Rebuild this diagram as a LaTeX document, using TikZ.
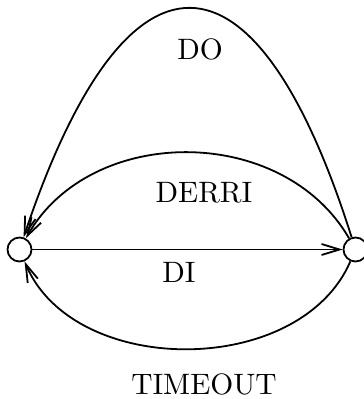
\documentclass[tikz,border=0pt]{standalone}
\usetikzlibrary{arrows.meta}
\font\lblfont="[lmroman10-regular]:+tlig;" at 29.5pt
\begin{document}
\begin{tikzpicture}[x=1pt,y=-1pt,
  state/.style={circle,draw,line width=1.8pt,minimum size=24pt,inner sep=0pt},
  edge/.style={line width=1.8pt,-{Straight Barb[length=18pt,width=11pt,line width=1.8pt]}},
  lbl/.style={font=\lblfont,inner sep=0pt}]
\useasboundingbox (0,0) rectangle (364,399);
\node[state] (L) at (19.5,249.5) {};
\node[state] (R) at (355.5,249.5) {};
\draw[edge] (L) -- (R);
\draw[edge] (R) .. controls (255,-68) and (126,-68) .. (L);
\draw[edge] (R) .. controls (283,124) and (91,124) .. (L);
\draw[edge] (R) .. controls (300,378) and (74,378) .. (L);
\node[lbl] (do) at (200,49) {DO};
\node[lbl] (derri) at (204,193) {DERRI};
\node[lbl] (di) at (179,272) {DI};
\node[lbl] (timeout) at (204,384) {TIMEOUT};
\end{tikzpicture}
\end{document}
